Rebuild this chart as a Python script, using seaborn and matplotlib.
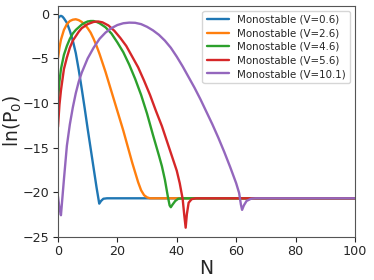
import matplotlib
matplotlib.use("Agg")
import matplotlib.pyplot as plt
import pandas as pd
import seaborn as sns

# ── Data ──────────────────────────────────────────────────────────────────────
labels = ["Monostable (V=0.6)", "Monostable (V=2.6)", "Monostable (V=4.6)",
          "Monostable (V=5.6)", "Monostable (V=10.1)"]

n_v06 = [0, 0.5, 1, 1.5, 2, 3, 4, 5, 6, 7, 8, 9, 10, 11, 12, 13, 13.9, 14.5, 15.3,
         16.5, 100]
p_v06 = [-0.5, -0.3, -0.22, -0.3, -0.5, -1.0, -1.9, -3.0, -4.4, -6.3, -8.4, -10.6,
         -12.9, -15.1, -17.3, -19.5, -21.3, -21.0, -20.75, -20.7, -20.7]

n_v26 = [0, 0.5, 1, 2, 3, 4, 5, 6, 7, 8, 9, 10, 11, 12, 13, 14, 15, 16, 17, 18, 19,
         20, 21, 22, 23, 24, 25, 26, 27, 28, 29, 30, 31, 100]
p_v26 = [-5.0, -3.8, -2.9, -1.8, -1.15, -0.8, -0.65, -0.6, -0.7, -0.9, -1.2, -1.6,
         -2.1, -2.8, -3.6, -4.5, -5.5, -6.5, -7.6, -8.7, -9.8, -10.9, -12.0, -13.1,
         -14.3, -15.5, -16.7, -17.8, -18.9, -19.8, -20.35, -20.6, -20.7, -20.7]

n_v46 = [0, 0.5, 1, 2, 3, 4, 5, 6, 7, 8, 9, 10, 11, 12, 13, 14, 16, 18, 20, 22, 24,
         26, 28, 30, 32, 34, 35, 36, 37, 37.6, 38, 38.6, 39.5, 40.5, 42, 100]
p_v46 = [-9.9, -7.6, -6.2, -4.6, -3.6, -2.8, -2.2, -1.8, -1.5, -1.2, -1.0, -0.85,
         -0.8, -0.8, -0.9, -1.05, -1.5, -2.2, -3.2, -4.3, -5.7, -7.3, -9.1, -11.2,
         -13.6, -15.9, -17.1, -18.6, -20.5, -21.5, -21.7, -21.4, -21.0, -20.75,
         -20.7, -20.7]

n_v56 = [0, 0.5, 1, 2, 3, 4, 5, 6, 7, 8, 10, 12, 13.5, 15, 17, 19, 21, 23, 25, 27,
         29, 31, 33, 35, 37, 39, 40, 41, 42, 42.5, 43, 43.4, 44, 45, 46.5, 100]
p_v56 = [-12.7, -10.2, -8.6, -6.2, -4.9, -3.8, -3.0, -2.5, -2.0, -1.6, -1.15, -0.9,
         -0.85, -0.95, -1.3, -1.9, -2.7, -3.6, -4.8, -6.0, -7.5, -9.1, -10.9, -12.6,
         -14.6, -16.6, -17.6, -19.0, -20.8, -22.5, -24.0, -22.5, -21.2, -20.8,
         -20.7, -20.7]

n_v101 = [0, 0.5, 1, 1.4, 2, 3, 4, 5, 6, 7, 8, 10, 12, 14, 16, 18, 20, 22, 24, 26,
          28, 30, 32, 34, 36, 38, 40, 42, 44, 46, 48, 50, 52, 54, 56, 58, 60, 61,
          61.6, 62, 62.6, 63.5, 65, 66.5, 100]
p_v101 = [-20.5, -21.8, -22.6, -21.0, -18.6, -14.8, -12.4, -10.5, -8.9, -7.6, -6.6,
          -5.0, -3.8, -2.8, -2.1, -1.6, -1.25, -1.05, -0.98, -1.0, -1.15, -1.45,
          -1.85, -2.35, -3.0, -3.8, -4.8, -5.9, -7.1, -8.3, -9.6, -11.0, -12.4,
          -13.9, -15.5, -17.2, -19.0, -20.1, -21.4, -22.0, -21.5, -21.0, -20.75,
          -20.7, -20.7]

series = [(n_v06, p_v06), (n_v26, p_v26), (n_v46, p_v46), (n_v56, p_v56),
          (n_v101, p_v101)]

df = pd.concat(
    [pd.DataFrame({"N": n, "lnP": p, "label": lab}) for lab, (n, p) in zip(labels, series)],
    ignore_index=True,
)

# ── Plot ──────────────────────────────────────────────────────────────────────
sns.set_style("ticks")
plt.rcParams["font.family"] = ["DejaVu Sans"]

fig = plt.figure(figsize=(3.74, 2.8), dpi=100)
ax = fig.add_axes([0.155, 0.155, 0.794, 0.824])

sns.lineplot(data=df, x="N", y="lnP", hue="label", hue_order=labels,
             palette=sns.color_palette("tab10", 5), estimator=None, sort=False,
             linewidth=1.7, ax=ax)

ax.set_xlim(0, 100)
ax.set_ylim(-25, 0.9)
ax.set_xticks([0, 20, 40, 60, 80, 100])
ax.set_yticks([0, -5, -10, -15, -20, -25])
ax.tick_params(labelsize=9.2, length=3.5, width=0.8, pad=2.5)
for s in ax.spines.values():
    s.set_color("#555555")
    s.set_linewidth(0.8)

ax.set_xlabel("N", fontsize=13.5, labelpad=1)
ax.set_ylabel("ln(P$_0$)", fontsize=13.5)
ax.yaxis.set_label_coords(-0.115, 0.5)
ax.legend(loc="upper right", fontsize=7.4, frameon=True, handlelength=2.2,
          borderaxespad=0.45, labelspacing=0.35)

fig.savefig("out.png", dpi=100)
plt.close()
